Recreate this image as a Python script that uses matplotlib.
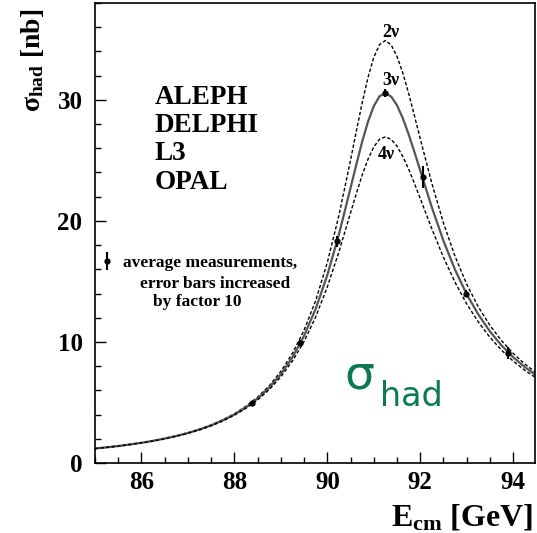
import numpy as np
import matplotlib
matplotlib.use('Agg')
import matplotlib.pyplot as plt
from matplotlib.ticker import MultipleLocator

plt.rcParams['font.family'] = ['Liberation Serif', 'DejaVu Serif']
plt.rcParams['font.weight'] = 'bold'
plt.rcParams['mathtext.fontset'] = 'custom'
plt.rcParams['mathtext.rm'] = 'Liberation Serif:bold'
plt.rcParams['mathtext.bf'] = 'Liberation Serif:bold'
plt.rcParams['mathtext.it'] = 'Liberation Serif'

############################## data

energy = [85.0, 85.25, 85.5, 85.75, 86.0, 86.25, 86.5, 86.75, 87.0, 87.25,
          87.5, 87.75, 88.0, 88.25, 88.5, 88.75, 89.0, 89.25, 89.5, 89.75,
          90.0, 90.25, 90.5, 90.625, 90.75, 90.875, 91.0, 91.125, 91.25,
          91.375, 91.5, 91.625, 91.75, 91.875, 92.0, 92.25, 92.5, 92.75,
          93.0, 93.25, 93.5, 93.75, 94.0, 94.25, 94.5]

sigma_2nu = [1.20, 1.30, 1.41, 1.54, 1.68, 1.84, 2.03, 2.25, 2.50, 2.80,
             3.15, 3.57, 4.07, 4.69, 5.44, 6.38, 7.56, 9.06, 10.97, 13.42,
             16.56, 20.45, 25.02, 27.43, 29.75, 31.84, 33.51, 34.57, 34.90,
             34.53, 33.59, 32.22, 30.54, 28.69, 26.79, 23.10, 19.82, 17.06,
             14.77, 12.90, 11.37, 10.10, 9.06, 8.18, 7.44]

sigma_3nu = [1.20, 1.29, 1.40, 1.53, 1.67, 1.83, 2.02, 2.23, 2.48, 2.77,
             3.11, 3.52, 4.01, 4.61, 5.33, 6.23, 7.34, 8.74, 10.51, 12.74,
             15.52, 18.89, 22.72, 24.67, 26.54, 28.18, 29.48, 30.30, 30.55,
             30.27, 29.55, 28.48, 27.16, 25.69, 24.16, 21.12, 18.35, 15.96,
             13.94, 12.27, 10.87, 9.71, 8.74, 7.93, 7.23]

sigma_4nu = [1.19, 1.29, 1.40, 1.52, 1.66, 1.82, 2.00, 2.21, 2.45, 2.74,
             3.07, 3.47, 3.95, 4.52, 5.21, 6.07, 7.12, 8.43, 10.05, 12.07,
             14.54, 17.45, 20.67, 22.27, 23.78, 25.09, 26.11, 26.75, 26.95,
             26.73, 26.17, 25.32, 24.28, 23.10, 21.85, 19.34, 16.99, 14.92,
             13.14, 11.65, 10.38, 9.32, 8.42, 7.66, 7.01]

meas_energy = [88.37, 89.42, 90.21, 91.24, 92.05, 92.98, 93.89]
meas_sigma = [4.93, 9.94, 18.3, 30.55, 23.6, 14.0, 9.1]
meas_err = [0.15, 0.2, 0.45, 0.35, 0.9, 0.3, 0.5]

experiments = ['ALEPH', 'DELPHI', 'L3', 'OPAL']

############################## plot

fig = plt.figure(figsize=(5.37, 5.33), dpi=100)
ax = fig.add_axes([95 / 537, 1 - 463 / 533, 440 / 537, 460 / 533])

ax.plot(energy, sigma_2nu, color='black', lw=1.0, ls=(0, (2.5, 1.5)))
ax.plot(energy, sigma_3nu, color='#555555', lw=1.6)
ax.plot(energy, sigma_4nu, color='black', lw=1.0, ls=(0, (2.5, 1.5)))

meas = ax.errorbar(meas_energy, meas_sigma, yerr=meas_err, fmt='o', color='black',
                   ms=3.5, elinewidth=1.5, capsize=0)

# curve labels just around each peak
ipk = int(np.argmax(sigma_3nu))
ax.annotate('2ν', (energy[ipk], max(sigma_2nu)), xytext=(4, 6), textcoords='offset points',
            ha='center', va='center', fontsize=13)
ax.annotate('3ν', (energy[ipk], max(sigma_3nu)), xytext=(4, 9), textcoords='offset points',
            ha='center', va='center', fontsize=13)
ax.annotate('4ν', (energy[ipk], max(sigma_4nu)), xytext=(1, -13), textcoords='offset points',
            ha='center', va='center', fontsize=13)

ax.text(0.136, 0.822, '\n'.join(experiments), transform=ax.transAxes, ha='left', va='top',
        fontsize=19.5, linespacing=1.17)

leg = ax.legend([meas], ['average measurements,'], loc='upper left', bbox_to_anchor=(-0.014, 0.479),
                frameon=False, fontsize=12.5, handlelength=0.65, handletextpad=0.6, borderpad=0.2)
ax.text(0.272, 0.389, 'error bars increased', transform=ax.transAxes,
        ha='center', va='center', fontsize=12.5)
ax.text(0.232, 0.349, 'by factor 10', transform=ax.transAxes,
        ha='center', va='center', fontsize=12.5)

# handwritten note
ax.text(0.60, 0.19, 'σ', transform=ax.transAxes, color='#0b7a52', fontsize=34,
        family='DejaVu Sans', fontweight='normal', ha='center', va='center')
ax.text(0.72, 0.145, 'had', transform=ax.transAxes, color='#0b7a52', fontsize=24,
        family='DejaVu Sans', fontweight='normal', ha='center', va='center')

ax.set_xlim(85, 94.47)
ax.set_ylim(0, 38)
ax.xaxis.set_major_locator(MultipleLocator(2))
ax.xaxis.set_minor_locator(MultipleLocator(0.5))
ax.yaxis.set_major_locator(MultipleLocator(10))
ax.yaxis.set_minor_locator(MultipleLocator(2))
ax.tick_params(which='both', direction='in', top=False, right=False, labelsize=18, width=1.0)
ax.tick_params(which='major', length=8)
ax.tick_params(which='minor', length=4.5)
ax.tick_params(axis='x', pad=6)
ax.tick_params(axis='y', pad=9)
for s in ax.spines.values():
    s.set_linewidth(1.2)

fig.text(0.993, 1 - 517 / 533, r'$\mathbf{E}_{\mathbf{cm}}$ [GeV]', ha='right', va='center', fontsize=23)
fig.text(32 / 537, 1 - 60 / 533, r'$\sigma_{\mathbf{had}}$ [nb]', rotation=90, ha='center', va='center',
         fontsize=20)

fig.savefig('out.png', dpi=100)
